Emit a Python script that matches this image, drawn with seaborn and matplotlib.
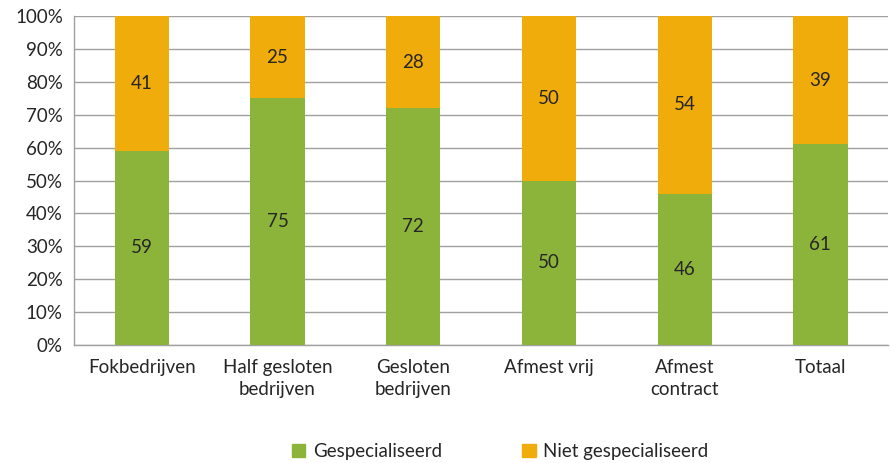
import numpy as np
import pandas as pd
import matplotlib
matplotlib.use("Agg")
import matplotlib.pyplot as plt
import seaborn as sns
from matplotlib.patches import Patch

# data
categories = ["Fokbedrijven", "Half gesloten\nbedrijven", "Gesloten\nbedrijven",
              "Afmest vrij", "Afmest\ncontract", "Totaal"]
gespecialiseerd = [59, 75, 72, 50, 46, 61]
niet_gespecialiseerd = [41, 25, 28, 50, 54, 39]

green = "#8DB43A"
orange = "#F0AC0A"
grid_col = "#A0A0A0"

sns.set_style("white")
plt.rcParams["font.family"] = ["Lato", "DejaVu Sans"]

df = pd.DataFrame({
    "cat": categories,
    "gesp": gespecialiseerd,
    "niet": niet_gespecialiseerd,
})
df["total"] = df["gesp"] + df["niet"]

fig = plt.figure(figsize=(8.9, 4.63), dpi=100)
ax = fig.add_axes([0.0831, 0.2549, 0.9149, 0.7105])

# stacked: full-height orange first, green over it
sns.barplot(data=df, x="cat", y="total", color=orange, width=0.4,
            saturation=1, linewidth=0, ax=ax, zorder=3)
sns.barplot(data=df, x="cat", y="gesp", color=green, width=0.4,
            saturation=1, linewidth=0, ax=ax, zorder=4)

fs = 13.5
for i, (g, n) in enumerate(zip(gespecialiseerd, niet_gespecialiseerd)):
    ax.text(i, g / 2, str(g), ha="center", va="center", fontsize=fs, zorder=5)
    ax.text(i, g + n / 2, str(n), ha="center", va="center", fontsize=fs, zorder=5)

ax.set_xlim(-0.5, len(categories) - 0.5)
ax.set_ylim(0, 100)
ax.set_yticks(np.arange(0, 101, 10))
ax.set_yticklabels([f"{v}%" for v in range(0, 101, 10)])
ax.yaxis.grid(True, color=grid_col, linewidth=1, zorder=0)
ax.set_axisbelow(True)

ax.set_xticks(range(len(categories)))
ax.set_xticklabels(categories, linespacing=1.4)
ax.set_xticks(np.arange(-0.5, len(categories), 1), minor=True)
ax.tick_params(axis="x", which="major", length=0, pad=10, labelsize=fs)
ax.tick_params(axis="x", which="minor", length=5, color=grid_col, width=1)
ax.tick_params(axis="y", length=5, color=grid_col, width=1, labelsize=fs, pad=3)
ax.set_xlabel("")
ax.set_ylabel("")

for side in ["top", "right"]:
    ax.spines[side].set_visible(False)
for side in ["left", "bottom"]:
    ax.spines[side].set_color(grid_col)
    ax.spines[side].set_linewidth(1)

handles = [Patch(color=green, label="Gespecialiseerd"),
           Patch(color=orange, label="Niet gespecialiseerd")]
fig.legend(handles=handles, loc="center", bbox_to_anchor=(0.562, 0.025),
           ncol=2, frameon=False, fontsize=fs, handlelength=0.7,
           handleheight=0.7, handletextpad=0.4, columnspacing=4.3)

fig.savefig("out.png", dpi=100)
